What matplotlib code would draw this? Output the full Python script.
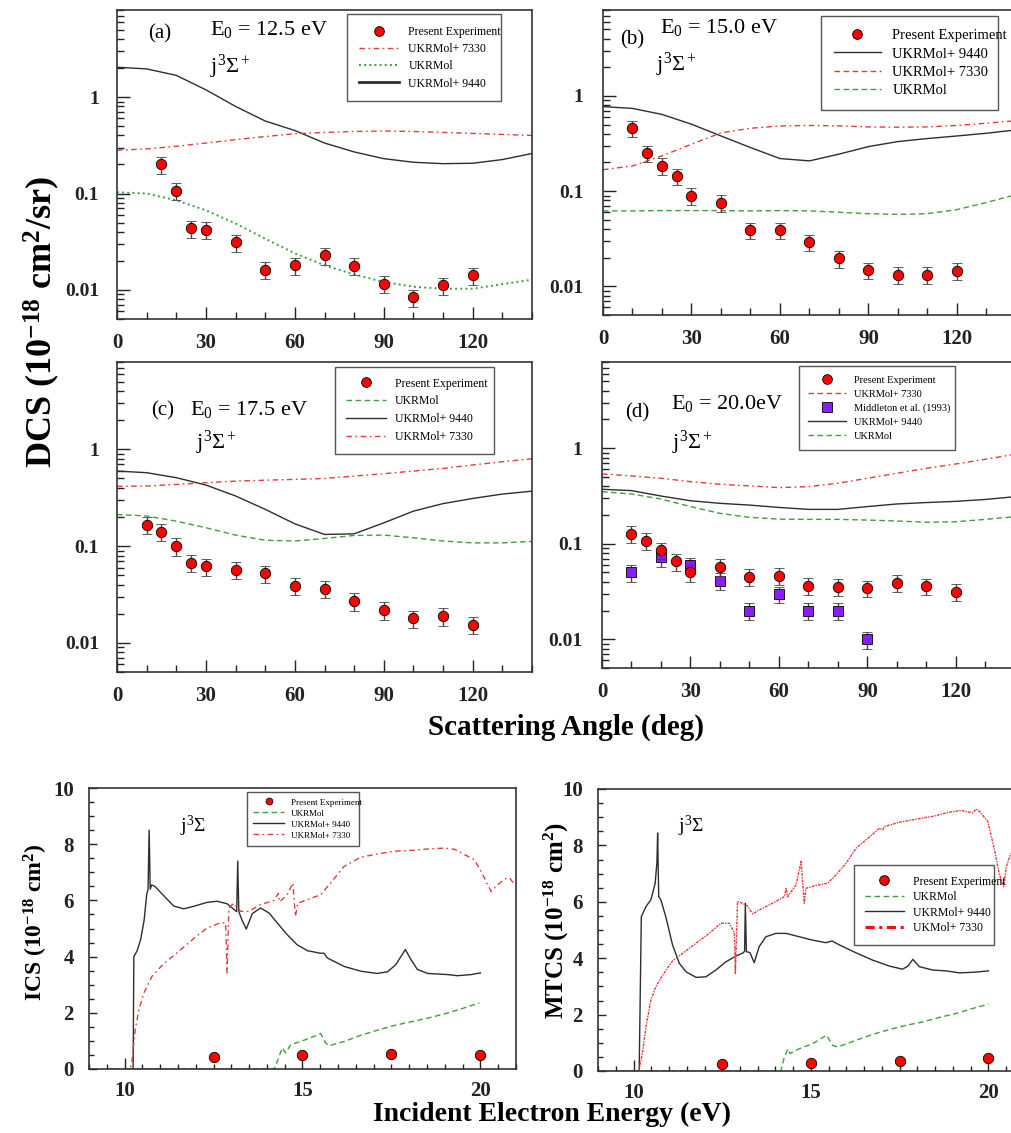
import matplotlib
matplotlib.use("Agg")
import matplotlib.pyplot as plt
from matplotlib.lines import Line2D
from matplotlib.ticker import FixedLocator, FixedFormatter, MultipleLocator, NullFormatter, LogLocator

plt.rcParams['font.family'] = ['Liberation Serif', 'DejaVu Serif']
plt.rcParams['font.weight'] = 'bold'
plt.rcParams['mathtext.fontset'] = 'custom'
plt.rcParams['mathtext.rm'] = 'Liberation Serif:style=normal:weight=normal'
plt.rcParams['mathtext.it'] = 'Liberation Serif:style=italic:weight=normal'
plt.rcParams['mathtext.bf'] = 'Liberation Serif:style=normal:weight=bold'
plt.rcParams['mathtext.default'] = 'rm'

# ---------------- DCS data ----------------
curve_ang = [0, 10, 20, 30, 40, 50, 60, 70, 80, 90, 100, 110, 120, 130, 140]

a_exp_ang = [15, 20, 25, 30, 40, 50, 60, 70, 80, 90, 100, 110, 120]
a_exp = [0.201, 0.107, 0.0434, 0.0418, 0.0311, 0.0162, 0.0180, 0.0229, 0.0177, 0.0116, 0.0084, 0.0112, 0.0142]
a_9440 = [2.04, 1.96, 1.68, 1.19, 0.80, 0.565, 0.45, 0.334, 0.27, 0.23, 0.211, 0.204, 0.206, 0.225, 0.26]
a_7330 = [0.281, 0.29, 0.309, 0.334, 0.362, 0.39, 0.417, 0.43, 0.44, 0.445, 0.44, 0.43, 0.42, 0.41, 0.40]
a_ukrmol = [0.103, 0.1, 0.085, 0.067, 0.049, 0.034, 0.024, 0.018, 0.0145, 0.0121, 0.0108, 0.0103, 0.0103, 0.0115, 0.0128]

exp_ang = [10, 15, 20, 25, 30, 40, 50, 60, 70, 80, 90, 100, 110, 120]
b_exp = [0.458, 0.25, 0.184, 0.144, 0.089, 0.076, 0.039, 0.039, 0.0292, 0.0197, 0.0148, 0.0132, 0.0132, 0.0145]
b_9440 = [0.773, 0.74, 0.64, 0.505, 0.38, 0.287, 0.22, 0.208, 0.245, 0.294, 0.332, 0.357, 0.38, 0.406, 0.44]
b_7330 = [0.168, 0.184, 0.235, 0.311, 0.41, 0.458, 0.484, 0.49, 0.485, 0.473, 0.47, 0.473, 0.49, 0.517, 0.55]
b_ukrmol = [0.062, 0.062, 0.0625, 0.0625, 0.0625, 0.062, 0.0625, 0.062, 0.060, 0.058, 0.057, 0.058, 0.064, 0.076, 0.092]

c_exp = [0.165, 0.14, 0.1, 0.067, 0.0616, 0.0569, 0.0522, 0.0389, 0.0362, 0.027, 0.0218, 0.0179, 0.0189, 0.0154]
c_9440 = [0.597, 0.574, 0.51, 0.428, 0.33, 0.24, 0.17, 0.132, 0.134, 0.174, 0.23, 0.275, 0.311, 0.345, 0.37]
c_7330 = [0.414, 0.418, 0.434, 0.452, 0.47, 0.48, 0.49, 0.50, 0.53, 0.56, 0.597, 0.636, 0.69, 0.745, 0.80]
c_ukrmol = [0.212, 0.205, 0.181, 0.155, 0.13, 0.115, 0.113, 0.12, 0.129, 0.13, 0.122, 0.113, 0.108, 0.108, 0.112]

d_exp = [0.128, 0.107, 0.0858, 0.0653, 0.05, 0.0574, 0.045, 0.0461, 0.0362, 0.0354, 0.0343, 0.039, 0.036, 0.0314]
d_midd_ang = [10, 20, 30, 40, 50, 60, 70, 80, 90]
d_midd = [0.05, 0.072, 0.0597, 0.041, 0.0198, 0.0297, 0.02, 0.02, 0.01]
d_9440 = [0.372, 0.36, 0.316, 0.282, 0.265, 0.254, 0.24, 0.229, 0.229, 0.245, 0.261, 0.27, 0.278, 0.291, 0.311]
d_7330 = [0.538, 0.513, 0.485, 0.447, 0.42, 0.403, 0.387, 0.396, 0.43, 0.485, 0.547, 0.617, 0.685, 0.767, 0.865]
d_ukrmol = [0.351, 0.332, 0.294, 0.245, 0.208, 0.189, 0.181, 0.18, 0.18, 0.177, 0.173, 0.168, 0.17, 0.18, 0.192]

REL_ERR = 0.2  # relative size of the DCS error bars

# ---------------- ICS / MTCS data ----------------
exp_E = [12.5, 15.0, 17.5, 20.0]
ics_exp = [0.44, 0.50, 0.52, 0.50]
mtcs_exp = [0.26, 0.28, 0.36, 0.46]

ics_E_9440 = [10.24, 10.26, 10.35, 10.45, 10.55, 10.62, 10.66, 10.69, 10.72, 10.76, 10.85, 11.0, 11.38, 11.66, 11.94,
              12.32, 12.6, 12.88, 13.1, 13.15, 13.18, 13.21, 13.3, 13.42, 13.59, 13.82, 14.06, 14.29, 14.57, 14.85,
              15.14, 15.5, 15.6, 15.7, 16.17, 16.64, 17.1, 17.39, 17.62, 17.89, 18.05, 18.23, 18.52, 19.08, 19.36,
              19.74, 20.0]
ics_9440 = [0.0, 4.0, 4.2, 4.6, 5.3, 6.2, 6.4, 8.5, 6.4, 6.55, 6.5, 6.3, 5.8, 5.7, 5.79,
            5.93, 5.97, 5.88, 5.65, 5.6, 7.4, 5.6, 5.3, 4.98, 5.53, 5.73, 5.55, 5.2, 4.78, 4.42,
            4.21, 4.12, 4.12, 3.95, 3.65, 3.48, 3.4, 3.46, 3.71, 4.25, 3.89, 3.54, 3.4, 3.36, 3.32,
            3.36, 3.42]
ics_E_7330 = [9.55, 10.15, 10.2, 10.3, 10.4, 10.54, 10.77, 11.1, 11.47, 11.94, 12.32, 12.69, 12.84, 12.88, 12.93,
              13.07, 13.26, 13.49, 13.82, 14.2, 14.32, 14.36, 14.57, 14.73, 14.8, 14.87, 15.14, 15.51, 15.79, 16.17,
              16.64, 17.1, 17.58, 18.05, 18.52, 18.99, 19.27, 19.55, 19.83, 20.02, 20.3, 20.49, 20.68, 20.82, 20.96]
ics_7330 = [0.0, 0.0, 0.2, 1.4, 2.1, 2.7, 3.3, 3.75, 4.13, 4.64, 5.02, 5.2, 5.2, 3.42, 5.73,
            5.9, 5.61, 5.61, 5.85, 6.0, 6.25, 5.95, 6.2, 6.62, 5.43, 5.9, 6.03, 6.2, 6.62, 7.21,
            7.54, 7.65, 7.75, 7.78, 7.83, 7.86, 7.82, 7.63, 7.45, 7.03, 6.32, 6.56, 6.76, 6.8, 6.56]
ics_E_ukrmol = [10.05, 14.2, 14.3, 14.43, 14.53, 14.67, 14.95, 15.32, 15.51, 15.65, 15.75, 16.17, 16.64, 17.1,
                17.58, 18.05, 18.52, 18.99, 19.46, 19.97]
ics_ukrmol = [0.0, 0.0, 0.3, 0.75, 0.57, 0.87, 0.98, 1.16, 1.26, 0.93, 0.83, 0.98, 1.2, 1.38,
              1.55, 1.68, 1.81, 1.96, 2.14, 2.35]

mtcs_E_9440 = [10.16, 10.22, 10.35, 10.49, 10.61, 10.66, 10.68, 10.71, 10.77, 10.91, 11.1, 11.29, 11.48, 11.76, 12.04,
               12.32, 12.6, 12.89, 13.09, 13.13, 13.15, 13.18, 13.28, 13.4, 13.54, 13.73, 14.01, 14.3, 14.67, 15.05,
               15.42, 15.59, 15.8, 16.27, 16.74, 17.21, 17.58, 17.73, 17.87, 18.05, 18.43, 18.81, 19.18, 19.56, 20.0]
mtcs_9440 = [0.0, 5.47, 5.83, 6.07, 6.66, 7.4, 8.44, 6.18, 6.07, 5.47, 4.47, 3.82, 3.52, 3.32, 3.34,
             3.58, 3.87, 4.08, 4.19, 4.25, 5.95, 4.23, 4.2, 3.84, 4.41, 4.76, 4.88, 4.88, 4.76, 4.64,
             4.55, 4.61, 4.47, 4.19, 3.93, 3.72, 3.61, 3.72, 3.96, 3.7, 3.58, 3.55, 3.48, 3.5, 3.55]
mtcs_E_7330 = [9.6, 10.15, 10.25, 10.35, 10.49, 10.63, 10.82, 11.1, 11.38, 11.76, 12.13, 12.46, 12.7, 12.84, 12.87,
               12.93, 13.07, 13.21, 13.36, 13.54, 13.92, 14.25, 14.3, 14.34, 14.58, 14.72, 14.81, 14.86, 15.14, 15.47,
               15.7, 15.99, 16.27, 16.64, 16.93, 17.02, 17.07, 17.49, 17.96, 18.43, 18.9, 19.23, 19.56, 19.65, 19.75,
               19.98, 20.17, 20.31, 20.43, 20.5, 20.6, 20.7]
mtcs_7330 = [0.0, 0.0, 0.62, 1.56, 2.51, 2.99, 3.4, 3.9, 4.17, 4.53, 4.88, 5.24, 5.24, 4.9, 3.46,
             6.01, 5.95, 5.85, 5.57, 5.71, 5.95, 6.18, 6.48, 6.18, 6.6, 7.43, 5.95, 6.48, 6.58, 6.66,
             6.95, 7.37, 7.9, 8.29, 8.61, 8.55, 8.67, 8.82, 8.93, 9.03, 9.18, 9.24, 9.15, 9.29, 9.2,
             8.85, 7.84, 6.95, 6.54, 7.25, 7.6, 7.9]
mtcs_E_ukrmol = [10.05, 14.15, 14.25, 14.35, 14.41, 14.67, 15.05, 15.44, 15.61, 15.75, 16.27, 16.74, 17.21, 17.68,
                 18.15, 18.62, 19.09, 19.56, 20.0]
mtcs_ukrmol = [0.0, 0.0, 0.5, 0.78, 0.62, 0.79, 0.97, 1.27, 0.91, 0.85, 1.09, 1.3, 1.47, 1.62,
               1.74, 1.9, 2.04, 2.22, 2.37]

# ---------------- styles ----------------
RED = '#e23b3b'
GREEN = '#3f9e3f'
BLACK = '#2e2e2e'
PURPLE = '#8a1cff'
DASHDOT = [4, 2.5, 1.2, 2.5]
DASHED = [4, 2.5]

W, H = 1012, 1133
fig = plt.figure(figsize=(W / 100, H / 100), dpi=100)
fig.patch.set_facecolor('white')


def px_axes(l, t, r, b):
    return fig.add_axes([l / W, 1 - b / H, (r - l) / W, (b - t) / H])


def ftext(x, y, s, **kw):
    kw.setdefault('fontweight', 'normal')
    fig.text(x / W, 1 - y / H, s, **kw)


def style_dcs(ax, ylabel_pad=13):
    ax.set_yscale('log')
    ax.set_ylim(0.005, 8)
    ax.set_xlim(0, 140)
    ax.yaxis.set_major_locator(FixedLocator([0.01, 0.1, 1]))
    ax.yaxis.set_major_formatter(FixedFormatter(['0.01', '0.1', '1']))
    ax.yaxis.set_minor_locator(LogLocator(base=10, subs=range(2, 10)))
    ax.yaxis.set_minor_formatter(NullFormatter())
    ax.xaxis.set_major_locator(MultipleLocator(30))
    ax.xaxis.set_minor_locator(MultipleLocator(10))
    ax.tick_params(which='both', direction='in', right=False, top=False, width=1.0, colors='#222')
    ax.tick_params(which='major', length=9, labelsize=15)
    ax.tick_params(which='minor', length=5)
    ax.tick_params(axis='y', which='major', pad=ylabel_pad, labelsize=14)
    ax.tick_params(axis='x', which='major', pad=10)
    for s in ax.spines.values():
        s.set_linewidth(1.2)
        s.set_color('#333')


def exp_points(ax, x, y, mfc='#ff0000', marker='o', ms=7.5, z=5):
    err = [v * REL_ERR for v in y]
    ax.errorbar(x, y, yerr=err, fmt=marker, mfc=mfc, mec='black', mew=0.6, ms=ms,
                ecolor='#444', elinewidth=1.0, capsize=3.5, capthick=1.0, zorder=z)


def h_exp():
    return Line2D([], [], marker='o', ls='none', mfc='#ff0000', mec='black', mew=0.6, ms=7)


def h_line(color, dashes=None, lw=1.0, ls='-'):
    ln = Line2D([], [], color=color, lw=lw, ls=ls)
    if dashes is not None:
        ln.set_dashes(dashes)
    return ln


def legend(ax, handles, labels, box, fs, spacing, hl=3.2, pad=0.6):
    l, t, r, b = box
    lg = ax.legend(handles, labels, loc='upper left',
                   bbox_to_anchor=(l / W, 1 - t / H, (r - l) / W, 0.0001),
                   bbox_transform=fig.transFigure, mode='expand', borderaxespad=0,
                   prop={'family': 'Liberation Serif', 'size': fs, 'weight': 'normal'},
                   fancybox=False, framealpha=1, edgecolor='#555', handlelength=hl,
                   handletextpad=0.8, labelspacing=spacing, borderpad=pad)
    lg.get_frame().set_linewidth(1.0)
    return lg


# ---------------- panel (a) ----------------
ax = px_axes(117, 10, 532, 319)
style_dcs(ax)
ax.plot(curve_ang, a_9440, color=BLACK, lw=1.0)
l1, = ax.plot(curve_ang, a_7330, color=RED, lw=1.0)
l1.set_dashes(DASHDOT)
ax.plot(curve_ang, a_ukrmol, color=GREEN, lw=1.4, ls=':')
exp_points(ax, a_exp_ang, a_exp)
legend(ax, [h_exp(), h_line(RED, DASHDOT), h_line(GREEN, ls=':', lw=1.4), h_line(BLACK, lw=2.0)],
       ['Present Experiment', 'UKRMol+ 7330', 'UKRMol', 'UKRMol+ 9440'],
       (347, 14, 501, 100), 8.5, 0.45, hl=3.4, pad=1.0)
ftext(160, 34, '(a)', fontsize=15, ha='center', va='center')
ftext(210, 30, r'E$_0$ = 12.5 eV', fontsize=16, ha='left', va='center')
ftext(210, 67, r'j$^3\Sigma^+$', fontsize=16, ha='left', va='center')

# ---------------- panel (b) ----------------
ax = px_axes(603, 10, 1016, 315)
style_dcs(ax, ylabel_pad=14)
ax.plot(curve_ang, b_9440, color=BLACK, lw=1.0)
l1, = ax.plot(curve_ang, b_7330, color=RED, lw=1.0)
l1.set_dashes(DASHDOT)
l2, = ax.plot(curve_ang, b_ukrmol, color=GREEN, lw=1.0)
l2.set_dashes(DASHED)
exp_points(ax, exp_ang, b_exp)
legend(ax, [h_exp(), h_line(BLACK), h_line(RED, DASHED), h_line(GREEN, DASHED)],
       ['Present Experiment', 'UKRMol+ 9440', 'UKRMol+ 7330', 'UKRMol'],
       (821, 16, 998, 116), 10.5, 0.35, hl=3.2, pad=0.9)
ftext(632, 40, '(b)', fontsize=15, ha='center', va='center')
ftext(660, 28, r'E$_0$ = 15.0 eV', fontsize=16, ha='left', va='center')
ftext(656, 65, r'j$^3\Sigma^+$', fontsize=16, ha='left', va='center')

# ---------------- panel (c) ----------------
ax = px_axes(117, 362, 532, 672)
style_dcs(ax)
ax.plot(curve_ang, c_9440, color=BLACK, lw=1.0)
l1, = ax.plot(curve_ang, c_7330, color=RED, lw=1.0)
l1.set_dashes(DASHDOT)
l2, = ax.plot(curve_ang, c_ukrmol, color=GREEN, lw=1.0)
l2.set_dashes(DASHED)
exp_points(ax, exp_ang, c_exp)
legend(ax, [h_exp(), h_line(GREEN, DASHED), h_line(BLACK), h_line(RED, DASHDOT)],
       ['Present Experiment', 'UKRMol', 'UKRMol+ 9440', 'UKRMol+ 7330'],
       (335, 367, 494, 457), 8.5, 0.5, hl=3.4, pad=0.9)
ftext(163, 411, '(c)', fontsize=15, ha='center', va='center')
ftext(190, 410, r'E$_0$ = 17.5 eV', fontsize=16, ha='left', va='center')
ftext(196, 443, r'j$^3\Sigma^+$', fontsize=16, ha='left', va='center')

# ---------------- panel (d) ----------------
ax = px_axes(602, 362, 1015, 668)
style_dcs(ax, ylabel_pad=14)
ax.plot(curve_ang, d_9440, color=BLACK, lw=1.0)
l1, = ax.plot(curve_ang, d_7330, color=RED, lw=1.0)
l1.set_dashes(DASHDOT)
l2, = ax.plot(curve_ang, d_ukrmol, color=GREEN, lw=1.0)
l2.set_dashes(DASHED)
exp_points(ax, d_midd_ang, d_midd, mfc=PURPLE, marker='s', ms=7, z=4)
exp_points(ax, exp_ang, d_exp)
h_sq = Line2D([], [], marker='s', ls='none', mfc=PURPLE, mec='black', mew=0.6, ms=6.5)
legend(ax, [h_exp(), h_line(RED, DASHED), h_sq, h_line(BLACK), h_line(GREEN, DASHED)],
       ['Present Experiment', 'UKRMol+ 7330', 'Middleton et al. (1993)', 'UKRMol+ 9440', 'UKRMol'],
       (799, 366, 955, 461), 7.5, 0.45, hl=3.6, pad=0.9)
ftext(637, 413, '(d)', fontsize=15, ha='center', va='center')
ftext(671, 404, r'E$_0$ = 20.0eV', fontsize=16, ha='left', va='center')
ftext(672, 443, r'j$^3\Sigma^+$', fontsize=16, ha='left', va='center')

# ---------------- shared DCS labels ----------------
ftext(42, 322, r'DCS (10$^{\mathbf{-18}}$ cm$^{\mathbf{2}}$/sr)', fontsize=26, fontweight='bold',
      rotation=90, ha='center', va='center')
ftext(566, 727, 'Scattering Angle (deg)', fontsize=21, fontweight='bold', ha='center', va='center')


# ---------------- ICS / MTCS ----------------
def style_cs(ax, xmax):
    ax.set_xlim(9, xmax)
    ax.set_ylim(0, 10)
    ax.xaxis.set_major_locator(FixedLocator([10, 15, 20]))
    ax.xaxis.set_minor_locator(MultipleLocator(0.5))
    ax.yaxis.set_major_locator(MultipleLocator(2))
    ax.yaxis.set_minor_locator(MultipleLocator(0.5))
    ax.tick_params(which='both', direction='in', right=False, top=False, width=1.0, colors='#222')
    ax.tick_params(axis='x', which='major', length=8, labelsize=15, pad=9)
    ax.tick_params(axis='x', which='minor', length=3.5)
    ax.tick_params(axis='y', which='major', length=6, labelsize=15, pad=11)
    ax.tick_params(axis='y', which='minor', length=3.5)
    for s in ax.spines.values():
        s.set_linewidth(1.2)
        s.set_color('#333')


ax = px_axes(89, 788, 516, 1069)
style_cs(ax, 21)
ax.plot(ics_E_9440, ics_9440, color=BLACK, lw=1.0)
l1, = ax.plot(ics_E_7330, ics_7330, color=RED, lw=1.0)
l1.set_dashes(DASHDOT)
l2, = ax.plot(ics_E_ukrmol, ics_ukrmol, color=GREEN, lw=1.0)
l2.set_dashes(DASHED)
ax.plot(exp_E, ics_exp, 'o', mfc='#ff0000', mec='black', mew=0.6, ms=7.5, zorder=5, clip_on=False)
legend(ax, [Line2D([], [], marker='o', ls='none', mfc='#ff0000', mec='black', mew=0.5, ms=5),
            h_line(GREEN, DASHED), h_line(BLACK), h_line(RED, DASHDOT)],
       ['Present Experiment', 'UKRMol', 'UKRMol+ 9440', 'UKRMol+ 7330'],
       (247, 792, 359, 854), 6.5, 0.3, hl=3.4, pad=0.7)
ftext(180, 826, r'j$^3\Sigma$', fontsize=14, ha='left', va='center')
ftext(36, 922, r'ICS (10$^{\mathbf{-18}}$ cm$^{\mathbf{2}}$)', fontsize=17, fontweight='bold',
      rotation=90, ha='center', va='center')

ax = px_axes(598, 789, 1024, 1071)
style_cs(ax, 21)
ax.plot(mtcs_E_9440, mtcs_9440, color=BLACK, lw=1.0)
l1, = ax.plot(mtcs_E_7330, mtcs_7330, color=RED, lw=1.0)
l1.set_dashes([2, 0.8, 1, 0.8])
l2, = ax.plot(mtcs_E_ukrmol, mtcs_ukrmol, color=GREEN, lw=1.0)
l2.set_dashes(DASHED)
ax.plot(exp_E, mtcs_exp, 'o', mfc='#ff0000', mec='black', mew=0.6, ms=7.5, zorder=5, clip_on=False)
legend(ax, [h_exp(), h_line(GREEN, DASHED), h_line(BLACK), h_line('#ee1111', [3, 1.5, 1, 1.5], lw=2.2)],
       ['Present Experiment', 'UKRMol', 'UKRMol+ 9440', 'UKMol+ 7330'],
       (854, 865, 994, 942), 8.5, 0.3, hl=3.3, pad=0.9)
ftext(678, 826, r'j$^3\Sigma$', fontsize=14, ha='left', va='center')
ftext(556, 920, r'MTCS (10$^{\mathbf{-18}}$ cm$^{\mathbf{2}}$)', fontsize=18, fontweight='bold',
      rotation=90, ha='center', va='center')

ftext(552, 1114, 'Incident Electron Energy (eV)', fontsize=20, fontweight='bold', ha='center', va='center')

fig.savefig('out.png', dpi=100, facecolor='white')
